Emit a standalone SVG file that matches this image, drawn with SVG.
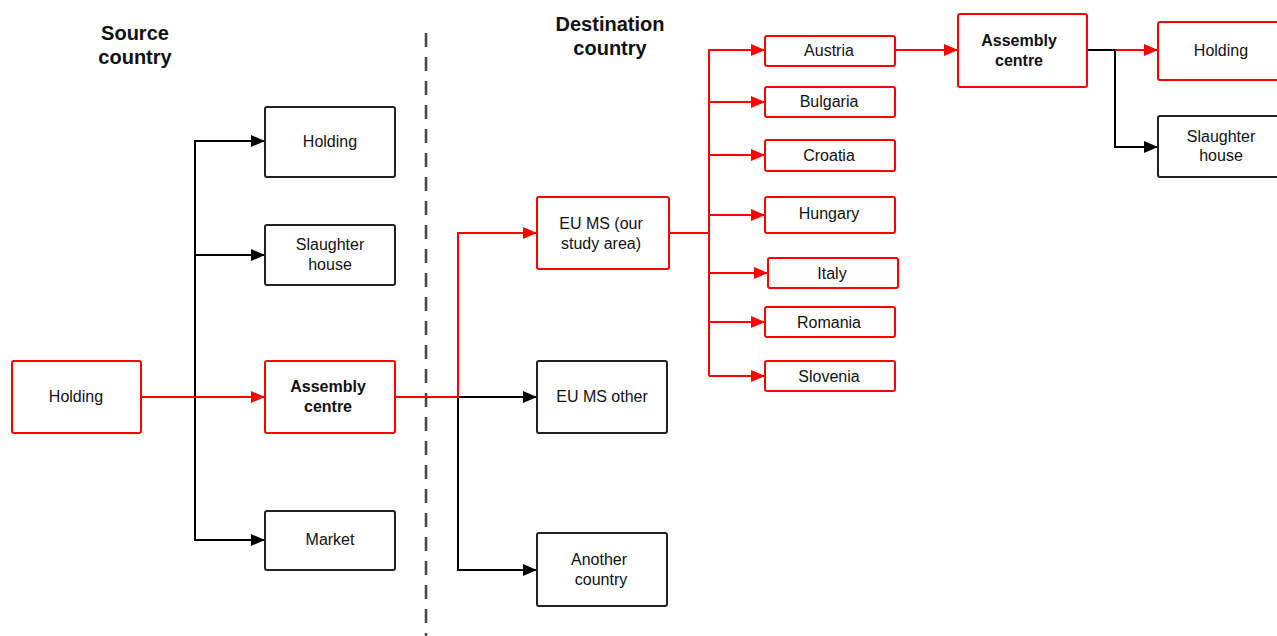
<svg xmlns="http://www.w3.org/2000/svg" width="1277" height="636" viewBox="0 0 1277 636">
<defs>
<marker id="ab" markerWidth="14" markerHeight="12" refX="14" refY="6" orient="auto" markerUnits="userSpaceOnUse"><path d="M0,0 L14,6 L0,12 z" fill="#000"/></marker>
<marker id="ar" markerWidth="14" markerHeight="12" refX="14" refY="6" orient="auto" markerUnits="userSpaceOnUse"><path d="M0,0 L14,6 L0,12 z" fill="#f00"/></marker>
</defs>
<style>
.nb{fill:#fff;stroke:#222;stroke-width:2}
.nr{fill:#fff;stroke:#f00;stroke-width:2}
text{font-family:"Liberation Sans",Arial,sans-serif;font-size:16px;fill:#111;text-anchor:middle}
.b{font-weight:bold}
.t{font-weight:bold;font-size:20px}
.cb{fill:none;stroke:#000;stroke-width:2}
.cr{fill:none;stroke:#f00;stroke-width:2}
</style>
<rect width="1277" height="636" fill="#fff"/>
<g id="titles">
<text class="t" x="135" y="40">Source</text>
<text class="t" x="135" y="64">country</text>
<text class="t" x="610" y="31">Destination</text>
<text class="t" x="610" y="55">country</text>
</g>
<line x1="426" y1="33" x2="426" y2="636" stroke="#444" stroke-width="2.5" stroke-dasharray="14,10"/>
<g id="connectors">
<path class="cb" d="M195,397 V141 H265" marker-end="url(#ab)"/>
<path class="cb" d="M195,255 H265" marker-end="url(#ab)"/>
<path class="cb" d="M195,397 V540 H265" marker-end="url(#ab)"/>
<path class="cr" d="M141,397 H265" marker-end="url(#ar)"/>
<path class="cb" d="M458,397 H537" marker-end="url(#ab)"/>
<path class="cb" d="M458,397 V570 H537" marker-end="url(#ab)"/>
<path class="cr" d="M395,397 H458 V233 H537" marker-end="url(#ar)"/>
<path class="cr" d="M669,233 H709" stroke-width="3"/>
<path class="cr" d="M709,376 V50 H765" marker-end="url(#ar)"/>
<path class="cr" d="M709,102 H765" marker-end="url(#ar)"/>
<path class="cr" d="M709,155 H765" marker-end="url(#ar)"/>
<path class="cr" d="M709,215 H765" marker-end="url(#ar)"/>
<path class="cr" d="M709,273 H768" marker-end="url(#ar)"/>
<path class="cr" d="M709,322 H765" marker-end="url(#ar)"/>
<path class="cr" d="M709,376 H765" marker-end="url(#ar)"/>
<path class="cr" d="M895,50 H958" marker-end="url(#ar)"/>
<path class="cb" d="M1087,50 H1115 V147 H1158" marker-end="url(#ab)"/>
<path class="cr" d="M1115,50 H1158" marker-end="url(#ar)"/>
</g>
<g id="n-holding-src"><rect class="nr" x="12" y="361" width="129" height="72" rx="2"/><text x="76" y="402">Holding</text></g>
<g id="n-holding1"><rect class="nb" x="265" y="107" width="130" height="70" rx="2"/><text x="330" y="147">Holding</text></g>
<g id="n-slaughter1"><rect class="nb" x="265" y="225" width="130" height="60" rx="2"/><text x="330" y="250">Slaughter</text><text x="330" y="270">house</text></g>
<g id="n-assembly1"><rect class="nr" x="265" y="361" width="130" height="72" rx="2"/><text class="b" x="328" y="392">Assembly</text><text class="b" x="328" y="412">centre</text></g>
<g id="n-market"><rect class="nb" x="265" y="511" width="130" height="59" rx="2"/><text x="330" y="545">Market</text></g>
<g id="n-eums"><rect class="nr" x="537" y="197" width="132" height="72" rx="2"/><text x="601" y="229">EU MS (our</text><text x="601" y="249">study area)</text></g>
<g id="n-eumsother"><rect class="nb" x="537" y="361" width="130" height="72" rx="2"/><text x="602" y="402">EU MS other</text></g>
<g id="n-another"><rect class="nb" x="537" y="533" width="130" height="73" rx="2"/><text x="599" y="565">Another</text><text x="601" y="585">country</text></g>
<g id="n-austria"><rect class="nr" x="765" y="36" width="130" height="30" rx="2"/><text x="829" y="56">Austria</text></g>
<g id="n-bulgaria"><rect class="nr" x="765" y="87" width="130" height="30" rx="2"/><text x="829" y="107">Bulgaria</text></g>
<g id="n-croatia"><rect class="nr" x="765" y="140" width="130" height="31" rx="2"/><text x="829" y="161">Croatia</text></g>
<g id="n-hungary"><rect class="nr" x="765" y="197" width="130" height="36" rx="2"/><text x="829" y="219">Hungary</text></g>
<g id="n-italy"><rect class="nr" x="768" y="258" width="130" height="30" rx="2"/><text x="832" y="279">Italy</text></g>
<g id="n-romania"><rect class="nr" x="765" y="307" width="130" height="30" rx="2"/><text x="829" y="328">Romania</text></g>
<g id="n-slovenia"><rect class="nr" x="765" y="361" width="130" height="30" rx="2"/><text x="829" y="382">Slovenia</text></g>
<g id="n-assembly2"><rect class="nr" x="958" y="14" width="129" height="73" rx="2"/><text class="b" x="1019" y="46">Assembly</text><text class="b" x="1019" y="66">centre</text></g>
<g id="n-holding2"><rect class="nr" x="1158" y="22" width="125" height="58" rx="2"/><text x="1221" y="56">Holding</text></g>
<g id="n-slaughter2"><rect class="nb" x="1158" y="116" width="125" height="61" rx="2"/><text x="1221" y="142">Slaughter</text><text x="1221" y="161">house</text></g>
</svg>
